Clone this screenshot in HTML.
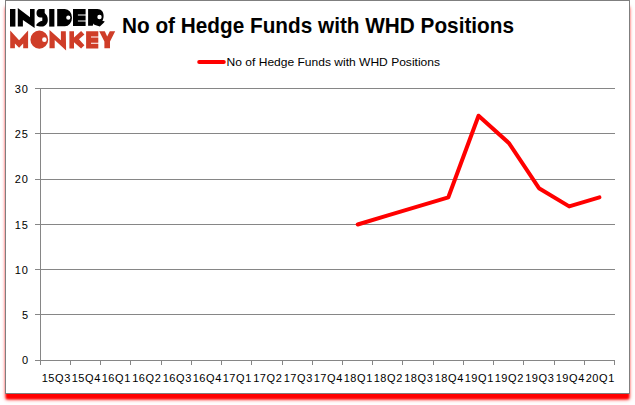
<!DOCTYPE html>
<html><head><meta charset="utf-8"><style>
html,body{margin:0;padding:0;background:#fff;width:635px;height:405px;overflow:hidden}
#box{position:absolute;left:5px;top:0;width:623px;height:392px;border:1px solid #7f7f7f;background:#fff;box-shadow:0 6px 2px -1px #ff0000,0 6px 4px -1px #ff0000}
svg{position:absolute;left:0;top:0}
text{font-family:"Liberation Sans",sans-serif}
</style></head><body>
<div id="box"></div>
<svg width="635" height="405" viewBox="0 0 635 405">
<g id="logo">
<g fill="#000">
<rect x="10" y="9" width="5.4" height="17.6"/>
<polygon points="17.8,8.1 30,17.3 30,9 34.6,9 34.6,28.1 22.9,19.9 22.9,26.6 17.8,26.6"/>
<path d="M39.6 9.1 H44.7 V12.9 L46.8 15.5 C47.6 17 47.8 18.5 47.8 20 C47.8 24 45 26.6 41.5 26.6 C39.5 26.6 37.5 26.3 36 25.2 C37.5 22.8 40 21 42.3 20.8 V17.4 H40 C37.6 17.4 36.5 15.2 36.5 13.2 C36.5 10.8 37.6 9.1 39.6 9.1 Z"/>
<rect x="49.2" y="9" width="5.2" height="17.6"/>
<path fill-rule="evenodd" d="M57.2 9 H64.9 A7.1 8.65 0 0 1 64.9 26.3 H57.2 Z M70.4 17.65 A2.1 2.1 0 1 0 66.2 17.65 A2.1 2.1 0 1 0 70.4 17.65 Z"/>
<path d="M73 9.1 H85.6 V14.4 H77.9 V15.4 H85.6 V20.6 H77.9 V21.6 H85.6 V25.9 H73 Z"/>
<path fill-rule="evenodd" d="M88.1 9 H97.5 C101.5 9 103.6 12 103.6 16 C103.6 18.3 103 19.8 102.3 20.7 L104.8 21.4 L103.5 22.9 L99.8 26.6 L94.3 24.8 L93.6 23.5 L92.7 25.7 H88.1 Z M101.7 17 A2.2 2.2 0 1 0 97.3 17 A2.2 2.2 0 1 0 101.7 17 Z"/>
</g>
<g fill="#cf3d28">
<polygon points="10.2,30.4 19.1,40.3 28.1,30.4 28.1,48.3 23.2,48.3 23.2,43.4 19.1,47.7 14.9,43.4 14.9,48.3 10.2,48.3"/>
<path fill-rule="evenodd" d="M48.2 39.65 A8.9 9.1 0 1 0 30.4 39.65 A8.9 9.1 0 1 0 48.2 39.65 Z M46.7 39.65 A2.3 2.3 0 1 0 42.1 39.65 A2.3 2.3 0 1 0 46.7 39.65 Z"/>
<polygon points="49.5,30.1 60.9,40.3 60.9,31.3 65.8,31.3 66.1,50.5 54.7,40 54.7,48.3 49.5,48.3"/>
<polygon points="69.4,31.3 74,31.3 74,37.5 81.1,31.1 84.4,34.4 79,39.2 84.4,45.3 81.1,48.5 74,42.3 74,48.6 69.4,48.6"/>
<path d="M86.1 31.2 H98.3 V36.5 H91 V37.5 H98.3 V42.7 H91 V43.7 H98.3 V48.5 H86.1 Z"/>
<polygon points="99.2,31.3 104.8,31.3 107.2,36.5 109.8,31.3 115.2,31.3 110,41.5 110,48.3 104.4,48.3 104.4,41.5"/>
</g>
</g>

<text x="122" y="33" font-size="21.5" font-weight="bold" fill="#000" textLength="392" lengthAdjust="spacingAndGlyphs">No of Hedge Funds with WHD Positions</text>
<line x1="199.2" y1="62" x2="223.8" y2="62" stroke="#ff0000" stroke-width="4" stroke-linecap="round"/>
<text x="226.6" y="66" font-size="11" fill="#000" textLength="213.4" lengthAdjust="spacingAndGlyphs">No of Hedge Funds with WHD Positions</text>
<g stroke="#868686" stroke-width="1" shape-rendering="crispEdges">
<line x1="35" y1="360.5" x2="615" y2="360.5"/><line x1="35" y1="314.5" x2="615" y2="314.5"/><line x1="35" y1="269.5" x2="615" y2="269.5"/><line x1="35" y1="224.5" x2="615" y2="224.5"/><line x1="35" y1="179.5" x2="615" y2="179.5"/><line x1="35" y1="133.5" x2="615" y2="133.5"/><line x1="35" y1="88.5" x2="615" y2="88.5"/>
<line x1="40.5" y1="88" x2="40.5" y2="361"/>
<line x1="40.5" y1="360" x2="40.5" y2="365"/><line x1="70.5" y1="360" x2="70.5" y2="365"/><line x1="100.5" y1="360" x2="100.5" y2="365"/><line x1="130.5" y1="360" x2="130.5" y2="365"/><line x1="161.5" y1="360" x2="161.5" y2="365"/><line x1="191.5" y1="360" x2="191.5" y2="365"/><line x1="221.5" y1="360" x2="221.5" y2="365"/><line x1="251.5" y1="360" x2="251.5" y2="365"/><line x1="282.5" y1="360" x2="282.5" y2="365"/><line x1="312.5" y1="360" x2="312.5" y2="365"/><line x1="342.5" y1="360" x2="342.5" y2="365"/><line x1="372.5" y1="360" x2="372.5" y2="365"/><line x1="402.5" y1="360" x2="402.5" y2="365"/><line x1="433.5" y1="360" x2="433.5" y2="365"/><line x1="463.5" y1="360" x2="463.5" y2="365"/><line x1="493.5" y1="360" x2="493.5" y2="365"/><line x1="523.5" y1="360" x2="523.5" y2="365"/><line x1="554.5" y1="360" x2="554.5" y2="365"/><line x1="584.5" y1="360" x2="584.5" y2="365"/><line x1="614.5" y1="360" x2="614.5" y2="365"/>
</g>
<g font-size="11" fill="#000">
<g letter-spacing="1"><text x="29" y="364" text-anchor="end">0</text><text x="29" y="319" text-anchor="end">5</text><text x="29" y="274" text-anchor="end">10</text><text x="29" y="229" text-anchor="end">15</text><text x="29" y="183" text-anchor="end">20</text><text x="29" y="138" text-anchor="end">25</text><text x="29" y="93" text-anchor="end">30</text></g>
<g letter-spacing="0.6"><text x="56.3" y="382" text-anchor="middle">15Q3</text><text x="86.3" y="382" text-anchor="middle">15Q4</text><text x="116.3" y="382" text-anchor="middle">16Q1</text><text x="146.8" y="382" text-anchor="middle">16Q2</text><text x="177.3" y="382" text-anchor="middle">16Q3</text><text x="207.3" y="382" text-anchor="middle">16Q4</text><text x="237.3" y="382" text-anchor="middle">17Q1</text><text x="267.8" y="382" text-anchor="middle">17Q2</text><text x="298.3" y="382" text-anchor="middle">17Q3</text><text x="328.3" y="382" text-anchor="middle">17Q4</text><text x="358.3" y="382" text-anchor="middle">18Q1</text><text x="388.3" y="382" text-anchor="middle">18Q2</text><text x="418.8" y="382" text-anchor="middle">18Q3</text><text x="449.3" y="382" text-anchor="middle">18Q4</text><text x="479.3" y="382" text-anchor="middle">19Q1</text><text x="509.3" y="382" text-anchor="middle">19Q2</text><text x="539.8" y="382" text-anchor="middle">19Q3</text><text x="570.3" y="382" text-anchor="middle">19Q4</text><text x="600.3" y="382" text-anchor="middle">20Q1</text></g>
</g>
<polyline points="357.71,224.50 387.92,215.43 418.13,206.37 448.34,197.30 478.55,115.70 508.76,142.90 538.97,188.23 569.18,206.37 599.39,197.30" fill="none" stroke="#ff0000" stroke-width="4" stroke-linejoin="round" stroke-linecap="round"/>
</svg>
</body></html>
